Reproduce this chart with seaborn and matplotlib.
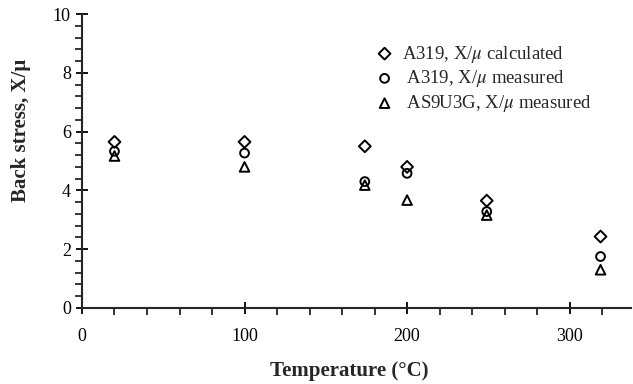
import numpy as np
import pandas as pd
import seaborn as sns
import matplotlib.pyplot as plt
from matplotlib.ticker import MultipleLocator

temp = [20, 100, 174, 200, 249, 319]
calc_a319 = [5.65, 5.65, 5.5, 4.8, 3.65, 2.43]
meas_a319 = [5.33, 5.27, 4.3, 4.58, 3.28, 1.75]
meas_as9u3g = [5.17, 4.8, 4.18, 3.67, 3.16, 1.3]

labels = ["A319, X/$\\mu$ calculated", " A319, X/$\\mu$ measured", " AS9U3G, X/$\\mu$ measured"]
markers = ["D", "o", "^"]
sizes = [36, 40, 48]

sns.set_style("ticks")
plt.rcParams["font.family"] = ["Liberation Serif", "DejaVu Serif"]
plt.rcParams["mathtext.fontset"] = "stix"

fig = plt.figure(figsize=(6.33, 3.84), dpi=100)
ax = fig.add_axes([0.1295, 0.198, 0.868, 0.7655])

for vals, lab, m, s in zip([calc_a319, meas_a319, meas_as9u3g], labels, markers, sizes):
    df = pd.DataFrame({"T": temp, "X": vals})
    sns.scatterplot(data=df, x="T", y="X", marker=m, s=s, facecolors="none",
                    edgecolor="black", linewidth=1.4, label=lab, ax=ax)

ax.set_xlim(0, 338)
ax.set_ylim(0, 10)
ax.xaxis.set_major_locator(MultipleLocator(100))
ax.xaxis.set_minor_locator(MultipleLocator(20))
ax.yaxis.set_major_locator(MultipleLocator(2))
ax.yaxis.set_minor_locator(MultipleLocator(0.4))
ax.tick_params(which="major", direction="inout", length=9, width=1.3, labelsize=13, colors="black")
ax.tick_params(axis="x", which="major", pad=10)
ax.tick_params(which="minor", direction="out", length=5, width=1.3)
sns.despine(ax=ax)
for sp in ["left", "bottom"]:
    ax.spines[sp].set_linewidth(1.5)

ax.set_xlabel("Temperature (°C)", fontsize=15, fontweight="bold")
ax.xaxis.set_label_coords(0.486, -0.18)
ax.set_ylabel("Back stress, X/µ", fontsize=15, fontweight="bold")
ax.yaxis.set_label_coords(-0.093, 0.605)

ax.legend(loc="upper left", bbox_to_anchor=(0.52, 0.925), frameon=False, fontsize=13.5,
          handlelength=1.0, handletextpad=0.45, labelspacing=0.2, borderaxespad=0)

fig.savefig("out.png", dpi=100)
